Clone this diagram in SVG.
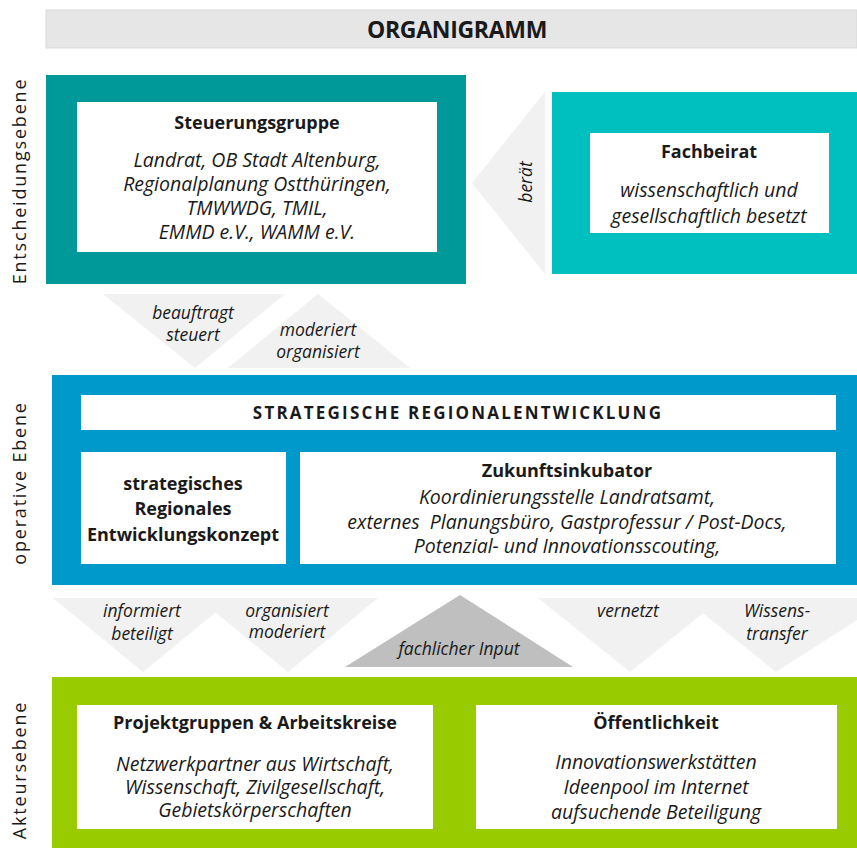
<svg xmlns="http://www.w3.org/2000/svg" width="857" height="848" viewBox="0 0 857 848">
<style>
text{font-family:"Open Sans","Noto Sans","Liberation Sans",sans-serif;fill:#1a1a1a;text-anchor:middle}
.b{font-weight:bold;font-size:18px}
.i{font-style:italic;font-size:19.5px}
.s{font-style:italic;font-size:17.5px}
.v{font-size:18px;letter-spacing:1.8px}
.w{fill:#ffffff}
.la{fill:#f1f1f1}
.da{fill:#bfbfbf}
</style>
<rect width="857" height="848" fill="#ffffff"/>
<g id="title">
<rect x="46" y="10" width="811" height="38" fill="#e6e6e6" stroke="#d9d9d9" stroke-width="1"/>
<text x="457" y="37.5" style="font-weight:bold;font-size:23px;letter-spacing:-0.3px">ORGANIGRAMM</text>
</g>
<g id="labels">
<text class="v" transform="translate(26,181) rotate(-90)">Entscheidungsebene</text>
<text class="v" transform="translate(26,483) rotate(-90)">operative Ebene</text>
<text class="v" transform="translate(26,770) rotate(-90)">Akteursebene</text>
</g>
<g id="connectors">
<polygon class="la" points="545,92 472,183 545,274"/>
<text class="s" transform="translate(532,182) rotate(-90)">berät</text>
<polygon class="la" points="103,294 285,294 195,368"/>
<polygon class="la" points="318,294 410,368 228,368"/>
<text class="s" x="193" y="319">beauftragt</text>
<text class="s" x="193" y="341">steuert</text>
<text class="s" x="318" y="336">moderiert</text>
<text class="s" x="318" y="358">organisiert</text>
<polygon class="da" points="252,493 276,469 276,481 336,481 336,504 276,504 276,516"/>
<text class="s" x="300" y="499">Input</text>
<polygon class="la" points="53,598 233,598 143,672"/>
<polygon class="la" points="198,598 378,598 288,672"/>
<polygon class="la" points="538,598 722,598 630,672"/>
<polygon class="la" points="684,598 857,598 857,620 776,672"/>
<polygon class="da" points="345,667 460,595 573,667"/>
<text class="s" x="142" y="617">informiert</text>
<text class="s" x="142" y="640">beteiligt</text>
<text class="s" x="287" y="617">organisiert</text>
<text class="s" x="287" y="638">moderiert</text>
<text class="s" x="628" y="617">vernetzt</text>
<text class="s" x="777" y="617">Wissens-</text>
<text class="s" x="777" y="640">transfer</text>
<text class="s" x="459" y="655">fachlicher Input</text>
</g>
<g id="steuerungsgruppe">
<rect x="46" y="75" width="420" height="209" fill="#009999"/>
<rect class="w" x="77" y="102" width="360" height="150"/>
<text class="b" x="257" y="129">Steuerungsgruppe</text>
<text class="i" x="257" y="167">Landrat, OB Stadt Altenburg,</text>
<text class="i" x="257" y="191">Regionalplanung Ostthüringen,</text>
<text class="i" x="257" y="215">TMWWDG, TMIL,</text>
<text class="i" x="257" y="239">EMMD e.V., WAMM e.V.</text>
</g>
<g id="fachbeirat">
<rect x="552" y="92" width="305" height="182" fill="#00bfbf"/>
<rect class="w" x="590" y="133" width="239" height="100"/>
<text class="b" x="709" y="158">Fachbeirat</text>
<text class="i" x="709" y="197">wissenschaftlich und</text>
<text class="i" x="709" y="223">gesellschaftlich besetzt</text>
</g>
<g id="operative">
<rect x="52" y="375" width="805" height="210" fill="#0099cc"/>
<rect class="w" x="81" y="395" width="755" height="35"/>
<text x="458" y="419" style="font-weight:bold;font-size:17px;letter-spacing:2.2px">STRATEGISCHE REGIONALENTWICKLUNG</text>
</g>
<g id="konzept">
<rect class="w" x="81" y="452" width="205" height="112"/>
<text class="b" x="183" y="490">strategisches</text>
<text class="b" x="183" y="515">Regionales</text>
<text class="b" x="183" y="541">Entwicklungskonzept</text>
</g>
<g id="zukunftsinkubator">
<rect class="w" x="300" y="452" width="536" height="112"/>
<text class="b" x="567" y="477">Zukunftsinkubator</text>
<text class="i" x="567" y="504">Koordinierungsstelle Landratsamt,</text>
<text class="i" x="567" y="529" xml:space="preserve">externes  Planungsbüro, Gastprofessur / Post-Docs,</text>
<text class="i" x="567" y="553">Potenzial- und Innovationsscouting,</text>
</g>
<g id="akteure">
<rect x="52" y="677" width="805" height="171" fill="#99cc00"/>
</g>
<g id="projektgruppen">
<rect class="w" x="77" y="705" width="356" height="124"/>
<text class="b" x="255" y="729">Projektgruppen &amp; Arbeitskreise</text>
<text class="i" x="255" y="771">Netzwerkpartner aus Wirtschaft,</text>
<text class="i" x="255" y="794">Wissenschaft, Zivilgesellschaft,</text>
<text class="i" x="255" y="817">Gebietskörperschaften</text>
</g>
<g id="oeffentlichkeit">
<rect class="w" x="476" y="705" width="361" height="124"/>
<text class="b" x="656" y="729">Öffentlichkeit</text>
<text class="i" x="656" y="769">Innovationswerkstätten</text>
<text class="i" x="656" y="794">Ideenpool im Internet</text>
<text class="i" x="656" y="819">aufsuchende Beteiligung</text>
</g>
</svg>
